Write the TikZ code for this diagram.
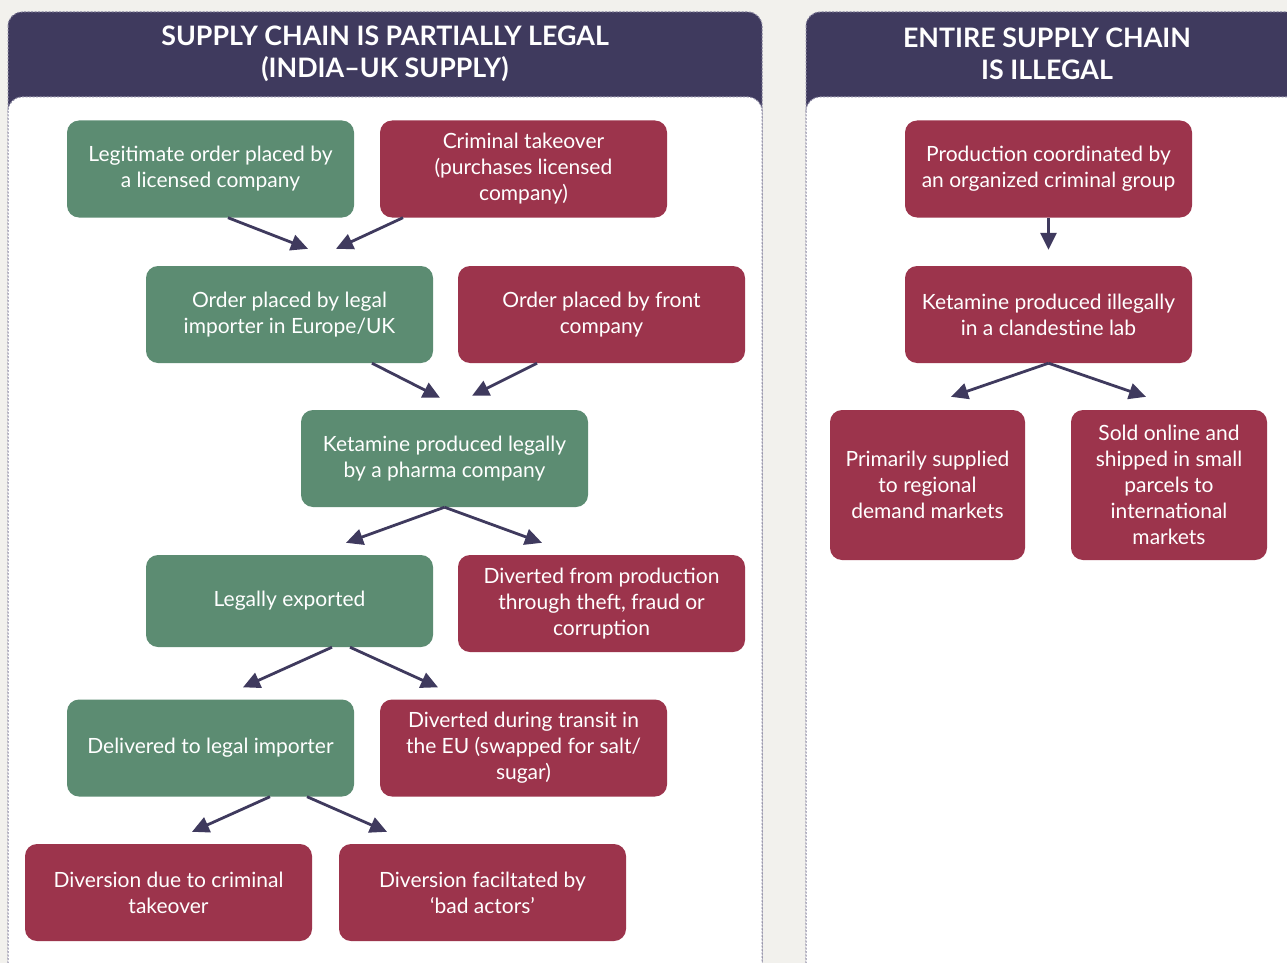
\documentclass[tikz,border=0pt]{standalone}
\usepackage{fontspec}
\setmainfont{Lato}
\usepackage{xcolor}
\usetikzlibrary{calc}
\usetikzlibrary{arrows.meta}
\definecolor{legalgreen}{HTML}{5C8C72}
\definecolor{crimered}{HTML}{9C344C}
\definecolor{headpurple}{HTML}{3F3A5E}
\definecolor{paper}{HTML}{F2F1ED}
\definecolor{rim}{HTML}{8C89A3}

\begin{document}
\begin{tikzpicture}[x=1pt,y=-1pt,
	box/.style={rounded corners=12pt,minimum width=287pt,minimum height=97pt,inner sep=0pt,
		align=center,text=white,font=\fontsize{21}{26}\selectfont},
	legal/.style={box,fill=legalgreen},
	crime/.style={box,fill=crimered},
	flow/.style={draw=headpurple,line width=2.8pt,-{Triangle[length=17pt,width=16pt]}},
	panel/.style={draw=rim,dash pattern=on 2pt off 1.5pt,line width=1pt,rounded corners=14pt},
	headline/.style={align=center,text=white,font=\bfseries\fontsize{26.8}{32}\selectfont}]
	\fill[paper] (0,0) rectangle (1287,963);
	\useasboundingbox (0,0) rectangle (1287,963);
	\clip (0,0) rectangle (1287,963);
	% panels
	\draw[panel,fill=headpurple] (8,12) rectangle (762,1000);
	\draw[panel,fill=white] (8,97) rectangle (762,1000);
	\draw[panel,fill=headpurple] (806,12) rectangle (1320,1000);
	\draw[panel,fill=white] (806,97) rectangle (1320,1000);
	\node[headline] (lhead) at (385,54) {SUPPLY CHAIN IS PARTIALLY LEGAL\\(INDIA–UK SUPPLY)};
	\node[headline] (rhead) at (1047,54) {ENTIRE SUPPLY CHAIN\\IS ILLEGAL};
	% partially legal chain
	\node[legal] (order) at (210.5,169) {Legitimate order placed by\\a licensed company};
	\node[crime] (takeover) at (523.5,169) {Criminal takeover\\(purchases licensed\\company)};
	\node[legal] (importer) at (289.5,314.5) {Order placed by legal\\importer in Europe/UK};
	\node[crime] (front) at (601.5,314.5) {Order placed by front\\company};
	\node[legal] (pharma) at (444.5,458.5) {Ketamine produced legally\\by a pharma company};
	\node[legal,minimum height=92pt] (export) at (289.5,601) {Legally exported};
	\node[crime] (theft) at (601.5,603.5) {Diverted from production\\through theft, fraud or\\corruption};
	\node[legal] (delivered) at (210.5,748) {Delivered to legal importer};
	\node[crime] (transit) at (523.5,748) {Diverted during transit in\\the EU (swapped for salt/\\sugar)};
	\node[crime] (divcrime) at (168.5,892.5) {Diversion due to criminal\\takeover};
	\node[crime] (divbad) at (482.5,892.5) {Diversion faciltated by\\‘bad actors’};
	\draw[flow] ($(order.south)+(17.5,0)$) -- ($(importer.north)+(18.5,-17)$);
	\draw[flow] ($(takeover.south)+(-120.5,0)$) -- ($(importer.north)+(46.5,-17)$);
	\draw[flow] ($(importer.south)+(82.5,0)$) -- ($(pharma.north)+(-4.5,-12)$);
	\draw[flow] ($(front.south)+(-64.5,0)$) -- ($(pharma.north)+(27.5,-14)$);
	\draw[flow] (pharma.south) -- ($(export.north)+(56.5,-12)$);
	\draw[flow] (pharma.south) -- ($(theft.north)+(-59.5,-12)$);
	\draw[flow] ($(export.south)+(42.5,0)$) -- ($(delivered.north)+(32.5,-12)$);
	\draw[flow] ($(export.south)+(60.5,0)$) -- ($(transit.north)+(-85.5,-12)$);
	\draw[flow] ($(delivered.south)+(59.5,0)$) -- ($(divcrime.north)+(23.5,-12)$);
	\draw[flow] ($(delivered.south)+(96.5,0)$) -- ($(divbad.north)+(-95.5,-12)$);
	% illegal chain
	\node[crime] (coord) at (1048.5,169) {Production coordinated by\\an organized criminal group};
	\node[crime] (lab) at (1048.5,314.5) {Ketamine produced illegally\\in a clandestine lab};
	\node[crime,minimum width=195pt,minimum height=150pt] (regional) at (927.5,485) {Primarily supplied\\to regional\\demand markets};
	\node[crime,minimum width=196pt,minimum height=150pt] (online) at (1169,485) {Sold online and\\shipped in small\\parcels to\\international\\markets};
	\draw[flow] (coord.south) -- ($(lab.north)+(0,-16)$);
	\draw[flow] (lab.south) -- ($(regional.north)+(23.5,-13)$);
	\draw[flow] (lab.south) -- ($(online.north)+(-23,-13)$);
\end{tikzpicture}
\end{document}
